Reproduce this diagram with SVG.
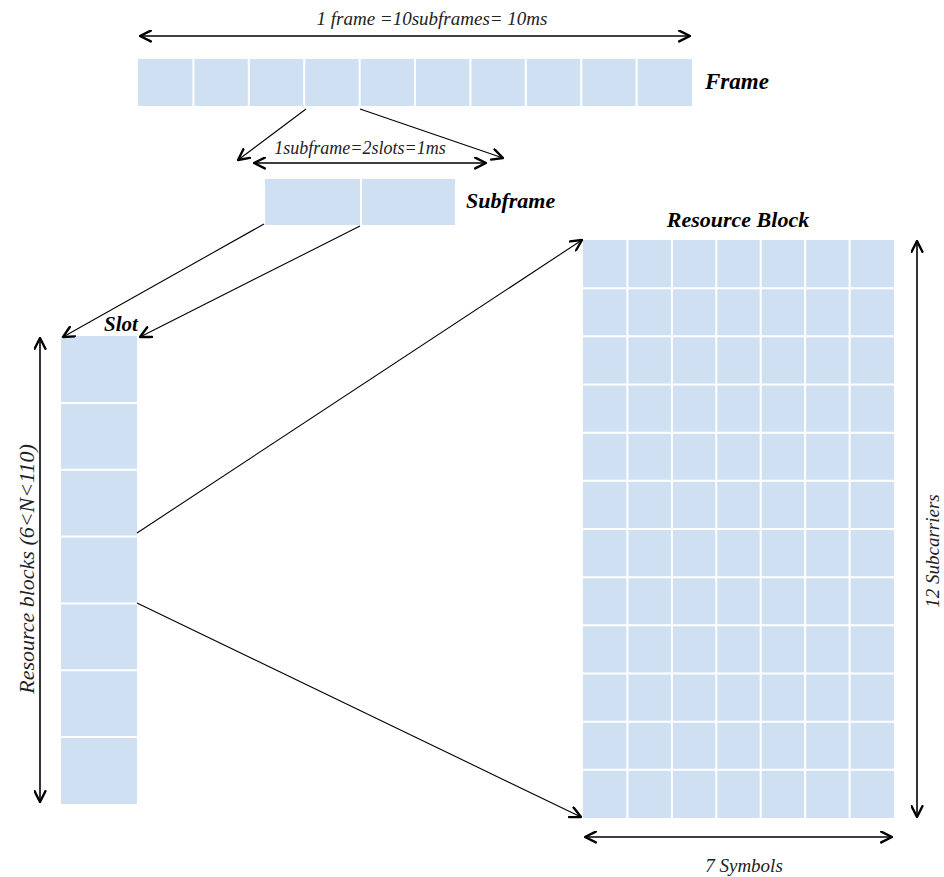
<svg xmlns="http://www.w3.org/2000/svg" width="944" height="877" viewBox="0 0 944 877">
  <style>
    .cell { fill: #cfe0f3; }
    .grid { stroke: #ffffff; stroke-width: 2; fill: none; }
    .dim { stroke: #000; stroke-width: 1.6; fill: none; }
    .link { stroke: #000; stroke-width: 1.1; fill: none; }
    .lbl { font-family: "Liberation Serif", "DejaVu Serif", serif; font-style: italic; fill: #222; }
    .title { font-family: "Liberation Serif", "DejaVu Serif", serif; font-style: italic; font-weight: bold; fill: #000; }
  </style>
  <defs>
    <marker id="chev" viewBox="0 0 12 12" refX="11" refY="6" markerWidth="13" markerHeight="13" markerUnits="userSpaceOnUse" orient="auto-start-reverse">
      <path d="M1,1 L11,6 L1,11" fill="none" stroke="#000" stroke-width="2.2" stroke-linecap="round" stroke-linejoin="round"/>
    </marker>
  </defs>

  <!-- Frame: ten subframes -->
  <g id="frame">
    <rect class="cell" x="138" y="59" width="554" height="47"/>
    <path class="grid" d="M193.4,59V106 M248.8,59V106 M304.2,59V106 M359.6,59V106 M415,59V106 M470.4,59V106 M525.8,59V106 M581.2,59V106 M636.6,59V106"/>
    <text class="title" x="705" y="89" font-size="23">Frame</text>
  </g>

  <!-- Subframe: two slots -->
  <g id="subframe">
    <rect class="cell" x="265" y="179" width="190" height="46"/>
    <path class="grid" d="M361,179V225"/>
    <text class="title" x="466" y="208" font-size="22">Subframe</text>
  </g>

  <!-- Slot: column of resource blocks -->
  <g id="slot">
    <rect class="cell" x="61" y="336" width="76" height="468"/>
    <path class="grid" d="M61,402.9H137 M61,469.7H137 M61,536.6H137 M61,603.4H137 M61,670.3H137 M61,737.1H137"/>
    <text class="title" x="121" y="331" font-size="21" text-anchor="middle">Slot</text>
  </g>

  <!-- Resource block: 7 symbols x 12 subcarriers -->
  <g id="resource-block">
    <rect class="cell" x="583" y="240" width="311" height="578"/>
    <path class="grid" d="M627.4,240V818 M671.9,240V818 M716.3,240V818 M760.7,240V818 M805.1,240V818 M849.6,240V818
      M583,288.2H894 M583,336.3H894 M583,384.5H894 M583,432.7H894 M583,480.8H894 M583,529H894 M583,577.2H894 M583,625.3H894 M583,673.5H894 M583,721.7H894 M583,769.8H894"/>
    <text class="title" x="738" y="227" font-size="22" text-anchor="middle">Resource Block</text>
  </g>

  <!-- Connectors and dimension arrows -->
  <g id="connectors">
    <line class="dim" x1="140" y1="36" x2="690" y2="36" marker-start="url(#chev)" marker-end="url(#chev)"/>
    <line class="dim" x1="254" y1="163" x2="486" y2="163" marker-start="url(#chev)" marker-end="url(#chev)"/>
    <line class="link" x1="306" y1="109" x2="238" y2="160" marker-end="url(#chev)"/>
    <line class="link" x1="360" y1="109" x2="503" y2="158" marker-end="url(#chev)"/>
    <line class="link" x1="264" y1="224" x2="63" y2="337" marker-end="url(#chev)"/>
    <line class="link" x1="360" y1="226" x2="140" y2="337" marker-end="url(#chev)"/>
    <line class="link" x1="137" y1="533" x2="582" y2="240" marker-end="url(#chev)"/>
    <line class="link" x1="137" y1="603" x2="581" y2="817" marker-end="url(#chev)"/>
    <line class="dim" x1="40" y1="338" x2="40" y2="802" marker-start="url(#chev)" marker-end="url(#chev)"/>
    <line class="dim" x1="917" y1="241" x2="917" y2="817" marker-start="url(#chev)" marker-end="url(#chev)"/>
    <line class="dim" x1="585" y1="837" x2="892" y2="837" marker-start="url(#chev)" marker-end="url(#chev)"/>
  </g>

  <!-- Dimension labels -->
  <g id="labels">
    <text class="lbl" x="432" y="25" font-size="19" text-anchor="middle">1 frame =10subframes= 10ms</text>
    <text class="lbl" x="360" y="154" font-size="18" text-anchor="middle">1subframe=2slots=1ms</text>
    <text class="lbl" x="744" y="872" font-size="19" text-anchor="middle">7 Symbols</text>
    <text class="lbl" font-size="22" text-anchor="middle" transform="translate(34,569) rotate(-90)">Resource blocks (6&lt;N&lt;110)</text>
    <text class="lbl" font-size="19" text-anchor="middle" transform="translate(939,551) rotate(-90)">12 Subcarriers</text>
  </g>
</svg>
